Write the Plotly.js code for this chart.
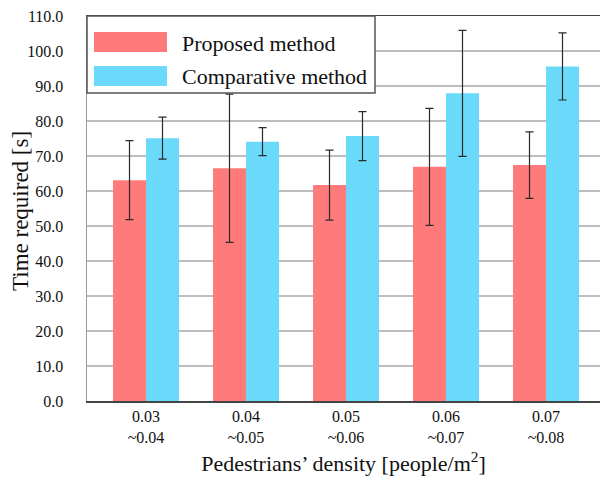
<!DOCTYPE html>
<html>
<head>
<meta charset="utf-8">
<script src="https://cdn.plot.ly/plotly-3.0.1.min.js"></script>
<style>html,body{margin:0;padding:0;background:#fff;}#chart{width:600px;height:481px;}</style>
</head>
<body>
<div id="chart"></div>
<script>
const categories = ["0.03<br>~0.04", "0.04<br>~0.05", "0.05<br>~0.06", "0.06<br>~0.07", "0.07<br>~0.08"];
const proposed = [63.1, 66.5, 61.7, 66.9, 67.4];
const proposedErr = [11.3, 21.2, 10.0, 16.7, 9.5];
const comparative = [75.1, 74.1, 75.7, 87.9, 95.6];
const comparativeErr = [6.0, 4.0, 7.0, 18.0, 9.6];
const seriesNames = ["Proposed method", "Comparative method"];
const yTicks = [0, 10, 20, 30, 40, 50, 60, 70, 80, 90, 100, 110];
const xTitle = "Pedestrians’ density [people/m<sup>2</sup>]";
const yTitle = "Time required [s]";

const RED = "#FF7B7B", BLUE = "#6AD9FA";
const FONT = "Liberation Serif";

const errStyle = {type: "data", visible: true, color: "#2a2a2a", thickness: 1.2, width: 4};

const traces = [
  {type: "bar", name: seriesNames[0], x: categories, y: proposed,
   marker: {color: RED}, error_y: Object.assign({array: proposedErr}, errStyle), showlegend: false},
  {type: "bar", name: seriesNames[1], x: categories, y: comparative,
   marker: {color: BLUE}, error_y: Object.assign({array: comparativeErr}, errStyle), showlegend: false}
];

const layout = {
  width: 600, height: 481,
  margin: {l: 87, r: 0, t: 16, b: 80},
  paper_bgcolor: "#fff", plot_bgcolor: "#fff",
  font: {family: FONT, color: "#111", size: 16},
  barmode: "group", bargap: 0.34, bargroupgap: 0,
  xaxis: {
    type: "category", range: [-0.59, 4.54],
    showgrid: false, zeroline: false,
    showline: true, linecolor: "#444", linewidth: 1.5, mirror: true,
    ticks: "", tickfont: {size: 16, family: FONT, color: "#111"},
    title: {text: xTitle, font: {size: 22, family: FONT, color: "#111"}, standoff: 11}
  },
  yaxis: {
    range: [0, 110], tickvals: yTicks, ticktext: yTicks.map(v => v.toFixed(1)),
    showgrid: true, gridcolor: "#bdbdbd", gridwidth: 1.3,
    zeroline: false, showline: true, linecolor: "#9a9a9a", linewidth: 1.5,
    ticks: "", ticklabelstandoff: 19, tickfont: {size: 16, family: FONT, color: "#111"}
  },
  shapes: [
    {type: "rect", xref: "paper", yref: "paper", x0: 0, x1: 288/513, y0: 1 - 77/385, y1: 1,
     line: {color: "#555", width: 1.5}, fillcolor: "#fff", layer: "above"},
    {type: "rect", xref: "paper", yref: "paper", x0: 7/513, x1: 80/513, y0: 1 - 36/385, y1: 1 - 16/385,
     line: {width: 0}, fillcolor: RED, layer: "above"},
    {type: "rect", xref: "paper", yref: "paper", x0: 7/513, x1: 80/513, y0: 1 - 70/385, y1: 1 - 50/385,
     line: {width: 0}, fillcolor: BLUE, layer: "above"}
  ],
  annotations: [
    {xref: "paper", yref: "paper", x: 93/513, y: 1 - 27/385, xanchor: "left", yanchor: "middle",
     text: seriesNames[0], showarrow: false, font: {size: 22, family: FONT, color: "#111"}},
    {xref: "paper", yref: "paper", x: 93/513, y: 1 - 61/385, xanchor: "left", yanchor: "middle",
     text: seriesNames[1], showarrow: false, font: {size: 22, family: FONT, color: "#111"}},
    {xref: "paper", yref: "paper", x: -67/513, y: 190/385, xanchor: "center", yanchor: "middle",
     textangle: -90, text: yTitle, showarrow: false, font: {size: 23, family: FONT, color: "#111"}}
  ]
};

Plotly.newPlot("chart", traces, layout, {displayModeBar: false, staticPlot: true});
</script>
</body>
</html>
